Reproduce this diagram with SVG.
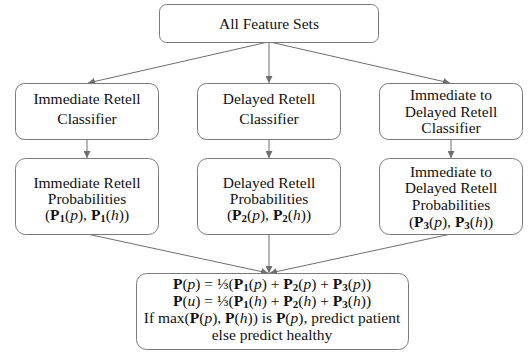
<svg xmlns="http://www.w3.org/2000/svg" width="532" height="352" viewBox="0 0 532 352">
<style>
.box{fill:#fff;stroke:#7a7a7a;stroke-width:1}
.t{font-family:'Liberation Serif',serif;font-size:15.5px;fill:#111;text-anchor:middle}
.b{font-weight:bold}
.i{font-style:italic}
.s{font-weight:bold;font-size:11px}
.c{stroke:#6e6e6e;stroke-width:1;fill:none}
</style>
<defs>
<marker id="ah" viewBox="0 0 10 10" refX="10" refY="5" markerWidth="7" markerHeight="7" orient="auto" markerUnits="userSpaceOnUse">
<path d="M0,0 L10,5 L0,10 z" fill="#6e6e6e"/>
</marker>
</defs>
<g id="connectors">
<line class="c" x1="268" y1="42" x2="88" y2="83" marker-end="url(#ah)"/>
<line class="c" x1="269" y1="42" x2="269" y2="83" marker-end="url(#ah)"/>
<line class="c" x1="270" y1="42" x2="450" y2="83" marker-end="url(#ah)"/>
<line class="c" x1="87" y1="139" x2="87" y2="158" marker-end="url(#ah)"/>
<line class="c" x1="269" y1="139" x2="269" y2="158" marker-end="url(#ah)"/>
<line class="c" x1="451" y1="139" x2="451" y2="158" marker-end="url(#ah)"/>
<line class="c" x1="87" y1="234" x2="268" y2="273" marker-end="url(#ah)"/>
<line class="c" x1="269" y1="234" x2="269" y2="273" marker-end="url(#ah)"/>
<line class="c" x1="451" y1="234" x2="270" y2="273" marker-end="url(#ah)"/>
</g>
<g id="all-feature-sets">
<rect class="box" x="159.5" y="4.5" width="219" height="38" rx="7"/>
<text class="t" x="269" y="29">All Feature Sets</text>
</g>
<g id="immediate-classifier">
<rect class="box" x="15.5" y="83.5" width="143" height="56" rx="9"/>
<text class="t" x="87" y="104">Immediate Retell</text>
<text class="t" x="87" y="124">Classifier</text>
</g>
<g id="delayed-classifier">
<rect class="box" x="197.5" y="83.5" width="143" height="56" rx="9"/>
<text class="t" x="269" y="104">Delayed Retell</text>
<text class="t" x="269" y="124">Classifier</text>
</g>
<g id="imm-to-delayed-classifier">
<rect class="box" x="379.5" y="83.5" width="143" height="56" rx="9"/>
<text class="t" x="451" y="100">Immediate to</text>
<text class="t" x="451" y="117">Delayed Retell</text>
<text class="t" x="451" y="133">Classifier</text>
</g>
<g id="immediate-probabilities">
<rect class="box" x="15.5" y="158.5" width="143" height="76" rx="10"/>
<text class="t" x="87" y="188">Immediate Retell</text>
<text class="t" x="87" y="204">Probabilities</text>
<text class="t" x="87" y="220">(<tspan class="b">P</tspan><tspan class="s" dy="2">1</tspan><tspan dy="-2">(</tspan><tspan class="i">p</tspan>), <tspan class="b">P</tspan><tspan class="s" dy="2">1</tspan><tspan dy="-2">(</tspan><tspan class="i">h</tspan>))</text>
</g>
<g id="delayed-probabilities">
<rect class="box" x="197.5" y="158.5" width="143" height="76" rx="10"/>
<text class="t" x="269" y="188">Delayed Retell</text>
<text class="t" x="269" y="204">Probabilities</text>
<text class="t" x="269" y="220">(<tspan class="b">P</tspan><tspan class="s" dy="2">2</tspan><tspan dy="-2">(</tspan><tspan class="i">p</tspan>), <tspan class="b">P</tspan><tspan class="s" dy="2">2</tspan><tspan dy="-2">(</tspan><tspan class="i">h</tspan>))</text>
</g>
<g id="imm-to-delayed-probabilities">
<rect class="box" x="379.5" y="158.5" width="143" height="76" rx="10"/>
<text class="t" x="451" y="177">Immediate to</text>
<text class="t" x="451" y="193">Delayed Retell</text>
<text class="t" x="451" y="210">Probabilities</text>
<text class="t" x="451" y="227">(<tspan class="b">P</tspan><tspan class="s" dy="2">3</tspan><tspan dy="-2">(</tspan><tspan class="i">p</tspan>), <tspan class="b">P</tspan><tspan class="s" dy="2">3</tspan><tspan dy="-2">(</tspan><tspan class="i">h</tspan>))</text>
</g>
<g id="final-decision">
<rect class="box" x="136.5" y="273.5" width="272" height="76" rx="10"/>
<text class="t" x="272" y="289"><tspan class="b">P</tspan>(<tspan class="i">p</tspan>) = ⅓(<tspan class="b">P</tspan><tspan class="s" dy="2">1</tspan><tspan dy="-2">(</tspan><tspan class="i">p</tspan>) + <tspan class="b">P</tspan><tspan class="s" dy="2">2</tspan><tspan dy="-2">(</tspan><tspan class="i">p</tspan>) + <tspan class="b">P</tspan><tspan class="s" dy="2">3</tspan><tspan dy="-2">(</tspan><tspan class="i">p</tspan>))</text>
<text class="t" x="272" y="306"><tspan class="b">P</tspan>(<tspan class="i">u</tspan>) = ⅓(<tspan class="b">P</tspan><tspan class="s" dy="2">1</tspan><tspan dy="-2">(</tspan><tspan class="i">h</tspan>) + <tspan class="b">P</tspan><tspan class="s" dy="2">2</tspan><tspan dy="-2">(</tspan><tspan class="i">h</tspan>) + <tspan class="b">P</tspan><tspan class="s" dy="2">3</tspan><tspan dy="-2">(</tspan><tspan class="i">h</tspan>))</text>
<text class="t" x="272" y="323">If max(<tspan class="b">P</tspan>(<tspan class="i">p</tspan>), <tspan class="b">P</tspan>(<tspan class="i">h</tspan>)) is <tspan class="b">P</tspan>(<tspan class="i">p</tspan>), predict patient</text>
<text class="t" x="272" y="340">else predict healthy</text>
</g>
</svg>
